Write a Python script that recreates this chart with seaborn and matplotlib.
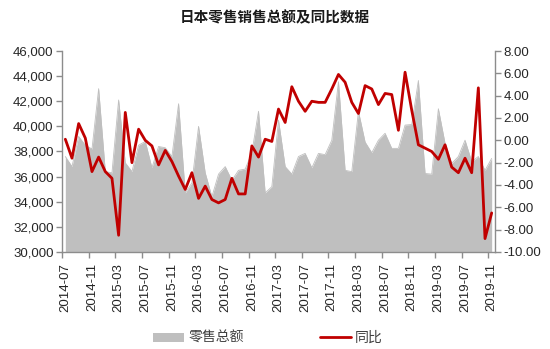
import matplotlib
matplotlib.use("Agg")
import matplotlib.pyplot as plt
import seaborn as sns
import numpy as np
import pandas as pd
from matplotlib.patches import Patch
from matplotlib.lines import Line2D
from matplotlib.ticker import FuncFormatter, FixedLocator

sns.set_theme(style="white")
plt.rcParams['font.family'] = ['Liberation Sans', 'Noto Sans CJK SC', 'DejaVu Sans']

title = "日本零售销售总额及同比数据"
months = pd.period_range("2014-07", "2019-11", freq="M").strftime("%Y-%m").tolist()

sales = [37600, 36800, 39200, 38500, 38200, 43000, 36400, 36300, 42100, 37100,
         36400, 38500, 38800, 36700, 38400, 38300, 37600, 41800, 34700, 35500,
         40000, 36300, 34400, 36200, 36800, 35700, 36500, 36600, 37900, 41200,
         34700, 35200, 40500, 36800, 36200, 37600, 37850, 36700, 37850, 37750,
         38900, 43550, 36500, 36400, 41200, 38750, 37900, 38900, 39450, 38250,
         38250, 40100, 40150, 43650, 36250, 36200, 41400, 38650, 37050, 37600,
         38900, 37200, 37600, 36500, 37450]

yoy = [0.1, -1.6, 1.5, 0.2, -2.8, -1.5, -2.8, -3.4, -8.5, 2.5,
       -2.0, 1.0, 0.0, -0.5, -2.2, -0.9, -1.9, -3.2, -4.4, -2.9,
       -5.2, -4.1, -5.3, -5.6, -5.3, -3.4, -4.8, -4.8, -0.5, -1.5,
       0.1, -0.1, 2.8, 1.6, 4.8, 3.5, 2.6, 3.5, 3.4, 3.4,
       4.6, 5.9, 5.2, 3.4, 2.4, 4.9, 4.6, 3.2, 4.2, 4.1,
       0.9, 6.1, 2.7, -0.4, -0.7, -1.0, -1.7, -0.4, -2.4, -2.9,
       -1.6, -2.9, 4.7, -8.8, -6.5]

legend_labels = ["零售总额", "同比"]

df = pd.DataFrame({"idx": np.arange(len(months)), "month": months,
                   "sales": sales, "yoy": yoy})

gray = "#BFBFBF"
red = "#C00000"
axis_col = "#8C8C8C"
text_col = "#262626"

fig = plt.figure(figsize=(5.5, 3.49), dpi=100)
ax = fig.add_axes([62/550, 1-252/349, (495-62)/550, (252-51)/349])

ax.fill_between(df["idx"], 30000, df["sales"], color=gray, linewidth=0)
sns.lineplot(data=df, x="idx", y="sales", ax=ax, color=gray, linewidth=0.6)
ax.set_ylim(30000, 46000)
ax.set_xlim(-0.5, len(months) - 0.5)
ax.set_yticks(np.arange(30000, 46001, 2000))
ax.yaxis.set_major_formatter(FuncFormatter(lambda v, p: f"{int(v):,}"))

ax2 = ax.twinx()
sns.lineplot(data=df, x="idx", y="yoy", ax=ax2, color=red, linewidth=2)
ax2.set_ylim(-10, 8)
ax2.set_yticks(np.arange(-10, 8.01, 2))
ax2.yaxis.set_major_formatter(FuncFormatter(lambda v, p: f"{v:.2f}"))
ax2.set_xlim(-0.5, len(months) - 0.5)

tick_idx = list(range(0, len(months), 4))
ax.set_xticks(tick_idx)
ax.set_xticklabels([months[i] for i in tick_idx], rotation=90)
ax.xaxis.set_minor_locator(FixedLocator([i - 0.5 for i in tick_idx]))

for a in (ax, ax2):
    a.set_xlabel("")
    a.set_ylabel("")
    a.spines["top"].set_visible(False)
    for s in ("left", "right", "bottom"):
        a.spines[s].set_color(axis_col)
        a.spines[s].set_linewidth(1.0)

ax.spines["right"].set_visible(False)
ax2.spines["left"].set_visible(False)
ax2.spines["bottom"].set_visible(False)

ax.tick_params(axis="y", which="major", left=True, length=4, width=1, color=axis_col,
               labelsize=9.5, labelcolor=text_col, pad=2)
ax2.tick_params(axis="y", which="major", right=True, length=4, width=1, color=axis_col,
                labelsize=9.5, labelcolor=text_col, pad=2)
ax.tick_params(axis="x", which="major", bottom=True, length=0, labelsize=9.5,
               labelcolor=text_col, pad=8)
ax.tick_params(axis="x", which="minor", bottom=True, length=4, width=1, color=axis_col)

fig.text(0.5, 1 - 17/349, title, ha="center", va="center", fontsize=10.5,
         fontweight="bold", color="#1a1a1a", family=['Noto Sans CJK SC'])

handles = [Patch(facecolor=gray, edgecolor="none"),
           Line2D([0], [0], color=red, linewidth=2)]
fig.legend(handles, legend_labels, loc="center", bbox_to_anchor=(268/550, 1 - 338/349),
           ncol=2, frameon=False, fontsize=10, columnspacing=5.5, handlelength=2.2,
           handleheight=0.6, handletextpad=0.3, labelcolor="#404040",
           prop={'family': ['Noto Sans CJK SC'], 'size': 10})

fig.savefig("out.png", dpi=100)
